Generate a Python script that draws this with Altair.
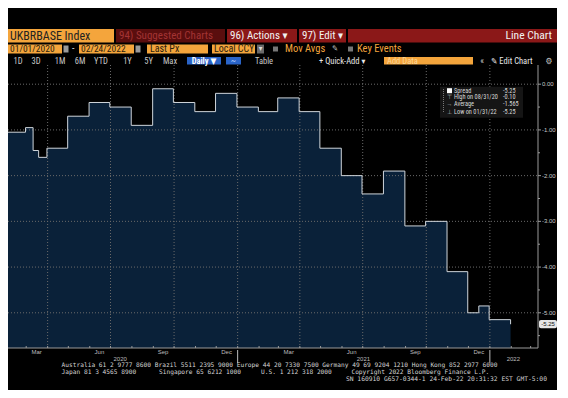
import altair as alt
import pandas as pd

# ---------------- data ----------------
dates = ["2020-01-31", "2020-02-29", "2020-03-11", "2020-03-19", "2020-03-31",
         "2020-04-30", "2020-05-31", "2020-06-30", "2020-07-31", "2020-08-31",
         "2020-09-30", "2020-10-31", "2020-11-30", "2020-12-31", "2021-01-31",
         "2021-02-28", "2021-03-31", "2021-04-30", "2021-05-31", "2021-06-30",
         "2021-07-31", "2021-08-31", "2021-09-30", "2021-10-31", "2021-11-30",
         "2021-12-16", "2021-12-31", "2022-01-31"]
spread = [-1.05, -0.95, -1.45, -1.60, -1.40,
          -0.70, -0.40, -0.50, -0.90, -0.10,
          -0.40, -0.60, -0.20, -0.50, -0.60,
          -0.30, -0.60, -1.40, -2.00, -2.40,
          -1.90, -3.10, -3.00, -4.10, -5.00,
          -4.85, -5.15, -5.25]

month_label_dates = ["2020-03-16", "2020-06-15", "2020-09-15", "2020-12-16",
                     "2021-03-16", "2021-06-15", "2021-09-15", "2021-12-16"]
month_labels = ["Mar", "Jun", "Sep", "Dec", "Mar", "Jun", "Sep", "Dec"]
year_label_dates = ["2020-07-15", "2021-07-02", "2022-02-04"]
year_labels = ["2020", "2021", "2022"]
year_starts = ["2021-01-01", "2022-01-01"]
quarter_starts = ["2020-04-01", "2020-07-01", "2020-10-01", "2021-01-01",
                  "2021-04-01", "2021-07-01", "2021-10-01", "2022-01-01"]
y_ticks = [0, -1, -2, -3, -4, -5]
y_tick_labels = ["0.00", "-1.00", "-2.00", "-3.00", "-4.00", "-5.00"]
y_minor = [-0.5, -1.5, -2.5, -3.5, -4.5, -5.5]
legend_labels = ["Spread", "High on 08/31/20", "Average", "Low on 01/31/22"]
legend_values = ["-5.25", "-0.10", "-1.565", "-5.25"]
legend_icons = ["", "\u22a4", "\u2192", "\u22a5"]

# ---------------- styling ----------------
W, H = 530, 283
FILL = "#0a2139"
LINE = "#cfd5db"
GRID = "#6a6a6a"
AXIS = "#9a9a9a"
ORANGE = "#f4a53c"
DARK = "#2a1c0c"
HEAD_FONT = "Liberation Sans Narrow, Roboto Condensed, DejaVu Sans Condensed, Liberation Sans, sans-serif"
SMALL_FONT = "Liberation Sans, DejaVu Sans, sans-serif"
MONO = "DejaVu Sans Mono, Liberation Mono, monospace"

df = pd.DataFrame({"date": pd.to_datetime(dates), "spread": spread})
months_df = pd.DataFrame({"date": pd.to_datetime(month_label_dates), "label": month_labels})
years_df = pd.DataFrame({"date": pd.to_datetime(year_label_dates), "label": year_labels})
ysep_df = pd.DataFrame({"date": pd.to_datetime(year_starts)})
q_df = pd.DataFrame({"date": pd.to_datetime(quarter_starts)})
mstart_df = pd.DataFrame({"date": pd.date_range("2020-03-01", "2022-03-01", freq="MS")})
yt_df = pd.DataFrame({"v": y_ticks, "t": y_tick_labels})
minor_df = pd.DataFrame({"v": y_minor})
last_df = pd.DataFrame({"v": [spread[-1]], "t": [f"{spread[-1]:.2f}"]})
one = pd.DataFrame({"k": [0]})

xs = alt.Scale(domain=[alt.DateTime(year=2020, month=2, date=3, hours=16),
                       alt.DateTime(year=2022, month=3, date=11, hours=16)])
ys = alt.Scale(domain=[-5.77, 0.42], nice=False, zero=False)

X = lambda: alt.X("date:T", scale=xs, axis=None)

area = alt.Chart(df).mark_area(interpolate="step-after", color=FILL, opacity=1, clip=True).encode(
    x=X(), y=alt.Y("spread:Q", scale=ys, axis=None), y2=alt.datum(-6))

hgrid = alt.Chart(yt_df).mark_rule(color=GRID, strokeDash=[1, 2], strokeWidth=1).encode(
    y=alt.Y("v:Q", scale=ys, axis=None), x=alt.value(0), x2=alt.value(W))

vgrid = alt.Chart(q_df).mark_rule(color=GRID, strokeDash=[1, 2], strokeWidth=1).encode(
    x=X(), y=alt.value(0), y2=alt.value(H))

line = alt.Chart(df).mark_line(interpolate="step-after", color=LINE, strokeWidth=1, clip=True).encode(
    x=X(), y=alt.Y("spread:Q", scale=ys, axis=None))

# right value axis
y_dom = alt.Chart(one).mark_rule(color=AXIS, strokeWidth=1).encode(
    x=alt.value(W), y=alt.value(0), y2=alt.value(H))
y_major = alt.Chart(yt_df).mark_rule(color=AXIS, strokeWidth=1).encode(
    y=alt.Y("v:Q", scale=ys, axis=None), x=alt.value(W), x2=alt.value(W + 3))
y_lab = alt.Chart(yt_df).mark_text(fontSize=6, color="#c8c8c8", font=SMALL_FONT,
                                   baseline="middle", align="left").encode(
    y=alt.Y("v:Q", scale=ys, axis=None), x=alt.value(W + 4), text="t:N")
minor = alt.Chart(minor_df).mark_rule(color=AXIS, strokeWidth=1).encode(
    y=alt.Y("v:Q", scale=ys, axis=None), x=alt.value(W), x2=alt.value(W + 2))

# time axis
x_dom = alt.Chart(one).mark_rule(color=AXIS, strokeWidth=1).encode(
    x=alt.value(0), x2=alt.value(W), y=alt.value(H))
x_ticks = alt.Chart(mstart_df).mark_rule(color=AXIS, strokeWidth=1).encode(
    x=X(), y=alt.value(H - 2), y2=alt.value(H))
mlabels = alt.Chart(months_df).mark_text(fontSize=6, color="#bdbdbd", font=SMALL_FONT,
                                         baseline="middle", align="center").encode(
    x=X(), y=alt.value(H + 4), text="label:N")
ylabels = alt.Chart(years_df).mark_text(fontSize=6, color="#bdbdbd", font=SMALL_FONT,
                                        baseline="middle", align="center").encode(
    x=X(), y=alt.value(H + 11), text="label:N")
ysep = alt.Chart(ysep_df).mark_rule(color="#bdbdbd", strokeWidth=1).encode(
    x=X(), y=alt.value(H + 2), y2=alt.value(H + 15))

last_box = alt.Chart(last_df).mark_rect(color="#e6e6e6", cornerRadius=2).encode(
    y=alt.YDatum(spread[-1] + 0.09, scale=ys, axis=None), y2=alt.datum(spread[-1] - 0.09),
    x=alt.value(531), x2=alt.value(549))
last_txt = alt.Chart(last_df).mark_text(fontSize=6, color="#111", font=SMALL_FONT,
                                        baseline="middle", align="center").encode(
    y=alt.Y("v:Q", scale=ys, axis=None), x=alt.value(540), text="t:N")


def box(x1, y1, x2, y2, color, **kw):
    return alt.Chart(one).mark_rect(color=color, **kw).encode(
        x=alt.value(x1), x2=alt.value(x2), y=alt.value(y1), y2=alt.value(y2))


def label(s, x, y, size=8.5, color="#c8c8c8", align="left", font=HEAD_FONT, **kw):
    return alt.Chart(one).mark_text(align=align, baseline="middle", fontSize=size,
                                    color=color, font=font, **kw).encode(
        x=alt.value(x), y=alt.value(y), text=alt.value(s))


deco = []
# row 1
r1a, r1b, r1c = -36, -22.5, -29
deco += [box(0, r1a, 106, r1b, ORANGE), label("UKBRBASE Index", 2, r1c, 12, "#222"),
         box(108, r1a, 217, r1b, "#5a0e0e"), label("94) Suggested Charts", 111, r1c, 11, "#a33434"),
         box(219, r1a, 289, r1b, "#8b1818"), label("96) Actions \u25be", 222, r1c, 11, "#f2f2f2"),
         box(291, r1a, 338, r1b, "#8b1818"), label("97) Edit \u25be", 294, r1c, 11, "#f2f2f2"),
         box(340, r1a, 549, r1b, "#8b1818"),
         label("Line Chart", 544, r1c, 11.5, "#f2f2f2", align="right")]
# row 2
r2a, r2b, r2c = -20.4, -11.5, -16
deco += [box(0, r2a, 54, r2b, ORANGE), label("01/01/2020", 2, r2c, 9.5, DARK),
         box(55.5, -19.5, 60.5, -12.5, "#9a9a9a"), label("-", 64, r2c, 10, "#dddddd"),
         box(71, r2a, 126, r2b, ORANGE), label("02/24/2022", 73, r2c, 9.5, DARK),
         box(127.5, -19.5, 132.5, -12.5, "#9a9a9a"),
         box(139, r2a, 200, r2b, ORANGE), label("Last Px", 142, r2c, 10, DARK),
         box(204, r2a, 247, r2b, ORANGE), label("Local CCY", 206, r2c, 10, DARK),
         box(249, r2a, 256, r2b, "#6a6a6a"), label("\u25be", 252.5, r2c, 8, "#dddddd", align="center"),
         box(265, -18.5, 270, -13.5, "#777777"), label("Mov Avgs", 277, r2c, 10.5, ORANGE),
         label("\u270e", 324, r2c, 8, "#bbbbbb"),
         box(340, -18.5, 345, -13.5, "#777777"), label("Key Events", 349, r2c, 10.5, ORANGE)]
# row 3
r3c = -4
for s, x in zip(["1D", "3D", "1M", "6M", "YTD", "1Y", "5Y", "Max"],
                [10, 28, 52, 72, 93, 119.5, 140.6, 162]):
    deco.append(label(s, x, r3c, 8.5, "#c8c8c8", align="center"))
deco += [box(179, -8, 213, -0.5, "#2a64c8"),
         label("Daily \u25bc", 196, r3c, 8.5, "#ffffff", align="center", fontWeight="bold"),
         box(218, -8, 233, -0.5, "#2a64c8"), label("~", 225.5, r3c, 9, "#bcd4ff", align="center"),
         label("Table", 256, r3c, 8.5, "#c8c8c8", align="center"),
         label("+ Quick-Add \u25be", 311, r3c, 8.5, "#e8e8e8"),
         box(376, -8, 465, -0.5, ORANGE), label("Add Data", 379, r3c, 8.5, "#fbd79a"),
         label("\u00ab", 474, r3c, 9, "#c8c8c8", align="center"),
         label("\u270e Edit Chart", 483, r3c, 8.5, "#e8e8e8"),
         label("\u2699", 541, r3c, 8.5, "#c8c8c8", align="center")]

# in-chart legend
leg_rows = [25.7, 32.3, 39.3, 46.7]
deco += [box(432, 21.7, 515, 52.7, "#151515"),
         alt.Chart(one).mark_rule(color="#777777", strokeDash=[1, 1]).encode(
             x=alt.value(435.5), y=alt.value(24), y2=alt.value(48)),
         box(439, 23.2, 444, 28.2, "#ffffff")]
for lab, val, ic, yy in zip(legend_labels, legend_values, legend_icons, leg_rows):
    if ic:
        deco.append(label(ic, 441.5, yy, 6, "#bbbbbb", align="center", font=SMALL_FONT))
    deco.append(label(lab, 446, yy, 6.3, "#d8d8d8"))
    deco.append(label(val, 495, yy, 6.3, "#d8d8d8"))

# footer
FC = "#d4d4d4"
deco += [label("Australia 61 2 9777 8600 Brazil 5511 2395 9000 Europe 44 20 7330 7500 "
               "Germany 49 69 9204 1210 Hong Kong 852 2977 6000", 53.6, 300, 6.2, FC, font=MONO),
         label("Japan 81 3 4565 8900", 53.6, 307, 6.2, FC, font=MONO),
         label("Singapore 65 6212 1000", 151, 307, 6.2, FC, font=MONO),
         label("U.S. 1 212 318 2000", 253, 307, 6.2, FC, font=MONO),
         label("Copyright 2022 Bloomberg Finance L.P.", 343.4, 307, 6.2, FC, font=MONO),
         label("SN 160910 G657-0344-1 24-Feb-22 20:31:32 EST  GMT-5:00", 338, 314.3, 6.3, FC,
               font=MONO)]

chart = alt.layer(area, hgrid, vgrid, line, y_dom, y_major, y_lab, minor, x_dom, x_ticks,
                  mlabels, ylabels, ysep, last_box, last_txt, *deco).properties(
    width=W, height=H, background="#000000",
    padding={"left": 0, "top": 57, "right": 19, "bottom": 42},
    autosize=alt.AutoSizeParams(type="none"),
).configure_view(strokeWidth=0)

chart.save("out.html", embed_options={"renderer": "svg", "actions": False})
